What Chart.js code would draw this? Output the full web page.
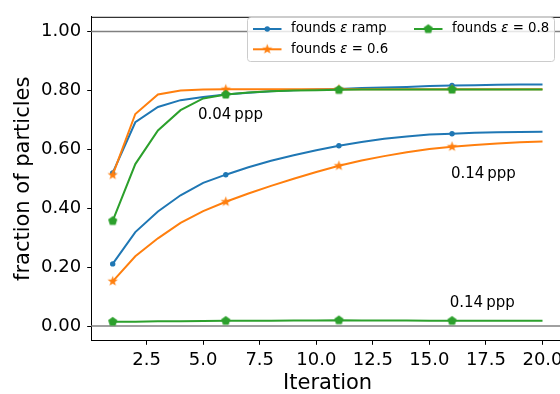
<!DOCTYPE html>
<html>
<head>
<meta charset="utf-8">
<script src="https://cdn.jsdelivr.net/npm/chart.js@4.4.1/dist/chart.umd.min.js"></script>
<style>
  html, body { margin: 0; padding: 0; overflow: hidden; background: #fff; }
  #wrap { width: 570px; height: 394px; }
</style>
</head>
<body>
<div id="wrap"><canvas id="chart" width="570" height="394"></canvas></div>
<script>
// iterations on the x axis
const iterations = [1, 2, 3, 4, 5, 6, 7, 8, 9, 10, 11, 12, 13, 14, 15, 16, 17, 18, 19, 20]

// fraction of particles found, 0.04 ppp
const ramp004 = [0.520, 0.692, 0.744, 0.767, 0.778, 0.786, 0.792, 0.797, 0.801, 0.803, 0.805, 0.808, 0.810, 0.812, 0.815, 0.817, 0.818, 0.819, 0.820, 0.820]
const eps06004 = [0.513, 0.720, 0.786, 0.800, 0.803, 0.804, 0.804, 0.804, 0.804, 0.804, 0.804, 0.804, 0.804, 0.804, 0.804, 0.804, 0.804, 0.804, 0.804, 0.804]
const eps08004 = [0.357, 0.550, 0.664, 0.733, 0.773, 0.786, 0.793, 0.797, 0.800, 0.801, 0.802, 0.803, 0.803, 0.803, 0.803, 0.803, 0.803, 0.803, 0.803, 0.803]

// fraction of particles found, 0.14 ppp
const ramp014 = [0.211, 0.319, 0.389, 0.444, 0.486, 0.514, 0.539, 0.561, 0.580, 0.597, 0.612, 0.625, 0.636, 0.644, 0.650, 0.653, 0.656, 0.658, 0.659, 0.660]
const eps06014 = [0.152, 0.237, 0.298, 0.350, 0.390, 0.422, 0.450, 0.476, 0.500, 0.523, 0.544, 0.562, 0.577, 0.590, 0.601, 0.609, 0.615, 0.620, 0.624, 0.627]
const eps08014 = [0.015, 0.015, 0.016, 0.016, 0.017, 0.018, 0.018, 0.018, 0.019, 0.019, 0.020, 0.019, 0.019, 0.019, 0.018, 0.018, 0.018, 0.018, 0.018, 0.018]

const xTicks = [2.5, 5.0, 7.5, 10.0, 12.5, 15.0, 17.5, 20.0]
const yTicks = [0.0, 0.2, 0.4, 0.6, 0.8, 1.0]
const refLines = [0.0, 1.0]

// text labels: [x, y, text]
const notes = [
  [4.77, 0.703, "0.04\u2009ppp"],
  [15.95, 0.503, "0.14\u2009ppp"],
  [15.9, 0.064, "0.14\u2009ppp"],
]

const BLUE = "#1f77b4"
const ORANGE = "#ff7f0e"
const GREEN = "#2ca02c"
const FONT = "'DejaVu Sans', sans-serif"

function makeMarker(kind, color) {
  const c = document.createElement("canvas")
  c.width = 13
  c.height = 13
  const g = c.getContext("2d")
  g.fillStyle = color
  g.beginPath()
  if (kind === "star") {
    for (let i = 0; i < 10; i++) {
      const r = i % 2 === 0 ? 5.4 : 2.2
      const a = -Math.PI / 2 + i * Math.PI / 5
      g.lineTo(6.5 + r * Math.cos(a), 6.5 + r * Math.sin(a))
    }
  } else {
    for (let i = 0; i < 5; i++) {
      const a = -Math.PI / 2 + i * 2 * Math.PI / 5
      g.lineTo(6.5 + 4.8 * Math.cos(a), 6.5 + 4.8 * Math.sin(a))
    }
  }
  g.closePath()
  g.fill()
  return c
}

const starImg = makeMarker("star", ORANGE)
const pentImg = makeMarker("pent", GREEN)

// matplotlib markevery=5
const every5 = (r) => (ctx) => (ctx.dataIndex % 5 === 0 ? r : 0)

function series(values, color, style, radius, order) {
  return {
    data: iterations.map((x, i) => ({ x, y: values[i] })),
    borderColor: color,
    backgroundColor: color,
    borderWidth: 2,
    tension: 0,
    pointStyle: style,
    pointRadius: every5(radius),
    pointBorderWidth: 0,
    pointHoverRadius: 0,
    order,
  }
}

function richText(ctx, parts, x, y) {
  parts.forEach(([t, italic]) => {
    ctx.font = (italic ? "italic " : "") + "13.3px " + FONT
    ctx.fillText(t, x, y)
    x += ctx.measureText(t).width
  })
}

const extras = {
  id: "extras",
  beforeDatasetsDraw(chart) {
    const { ctx, chartArea: a, scales: { y } } = chart
    ctx.save()
    ctx.strokeStyle = "#808080"
    ctx.lineWidth = 1.5
    refLines.forEach((v) => {
      const py = y.getPixelForValue(v)
      ctx.beginPath()
      ctx.moveTo(a.left, py)
      ctx.lineTo(a.right, py)
      ctx.stroke()
    })
    ctx.restore()
  },
  afterDraw(chart) {
    const { ctx, chartArea: a, scales: { x, y } } = chart
    ctx.save()
    // top and right spines
    ctx.strokeStyle = "#000"
    ctx.lineWidth = 1
    ctx.beginPath()
    ctx.moveTo(a.left, a.top + 0.5)
    ctx.lineTo(a.right, a.top + 0.5)
    ctx.lineTo(a.right, a.bottom)
    ctx.stroke()

    // ppp annotations
    ctx.fillStyle = "#000"
    ctx.font = "15px " + FONT
    ctx.textBaseline = "alphabetic"
    notes.forEach(([nx, ny, t]) => {
      ctx.fillText(t, x.getPixelForValue(nx), y.getPixelForValue(ny))
    })

    // legend
    const bx = 247.5, by = 17.5, bw = 307, bh = 44
    ctx.beginPath()
    ctx.roundRect(bx, by, bw, bh, 3)
    ctx.fillStyle = "rgba(255,255,255,0.8)"
    ctx.fill()
    ctx.strokeStyle = "#cccccc"
    ctx.lineWidth = 1
    ctx.stroke()

    const items = [
      { x0: 253, row: 29, color: BLUE, mark: "circle", parts: [["founds ", false], ["ε", true], [" ramp", false]] },
      { x0: 253, row: 49.3, color: ORANGE, mark: starImg, parts: [["founds ", false], ["ε", true], [" = 0.6", false]] },
      { x0: 414, row: 29, color: GREEN, mark: pentImg, parts: [["founds ", false], ["ε", true], [" = 0.8", false]] },
    ]
    items.forEach((it) => {
      ctx.strokeStyle = it.color
      ctx.lineWidth = 2
      ctx.beginPath()
      ctx.moveTo(it.x0, it.row)
      ctx.lineTo(it.x0 + 28.5, it.row)
      ctx.stroke()
      const cx = it.x0 + 14.25
      if (it.mark === "circle") {
        ctx.fillStyle = it.color
        ctx.beginPath()
        ctx.arc(cx, it.row, 2.7, 0, Math.PI * 2)
        ctx.fill()
      } else {
        ctx.drawImage(it.mark, cx - it.mark.width / 2, it.row - it.mark.height / 2)
      }
      ctx.fillStyle = "#000"
      ctx.textBaseline = "middle"
      richText(ctx, it.parts, it.x0 + 38, it.row)
    })
    ctx.restore()
  },
}

new Chart(document.getElementById("chart").getContext("2d"), {
  type: "line",
  data: {
    datasets: [
      series(ramp004, BLUE, "circle", 2.7, 6),
      series(ramp014, BLUE, "circle", 2.7, 5),
      series(eps06004, ORANGE, starImg, 5, 4),
      series(eps06014, ORANGE, starImg, 5, 3),
      series(eps08004, GREEN, pentImg, 5, 2),
      series(eps08014, GREEN, pentImg, 5, 1),
    ],
  },
  options: {
    responsive: false,
    animation: false,
    layout: { padding: { top: 10.8, right: 6, left: 0, bottom: 0 } },
    plugins: {
      legend: { display: false },
      tooltip: { enabled: false },
    },
    scales: {
      x: {
        type: "linear",
        min: 0.05,
        max: 20.95,
        afterBuildTicks: (s) => { s.ticks = xTicks.map((v) => ({ value: v })) },
        afterFit: (s) => { s.height = 53.2 },
        grid: { drawOnChartArea: false, drawTicks: true, tickLength: 4, tickColor: "#000" },
        border: { display: true, color: "#000", width: 1 },
        ticks: {
          callback: (v) => Number(v).toFixed(1),
          font: { family: FONT, size: 18 },
          color: "#000",
          padding: 4.7,
          maxRotation: 0,
          autoSkip: false,
        },
        title: {
          display: true,
          text: "Iteration",
          font: { family: FONT, size: 21, lineHeight: 1 },
          color: "#000",
          padding: { top: 0, bottom: 0 },
        },
      },
      y: {
        min: -0.05,
        max: 1.05,
        afterBuildTicks: (s) => { s.ticks = yTicks.map((v) => ({ value: v })) },
        afterFit: (s) => { s.width = 91.2 },
        grid: { drawOnChartArea: false, drawTicks: true, tickLength: 4, tickColor: "#000" },
        border: { display: true, color: "#000", width: 1 },
        ticks: {
          callback: (v) => Number(v).toFixed(2),
          font: { family: FONT, size: 18 },
          color: "#000",
          padding: 6,
          autoSkip: false,
        },
        title: {
          display: true,
          text: "fraction of particles",
          font: { family: FONT, size: 21, lineHeight: 1 },
          color: "#000",
          padding: { top: 13, bottom: 0 },
        },
      },
    },
  },
  plugins: [extras],
})
</script>
</body>
</html>
